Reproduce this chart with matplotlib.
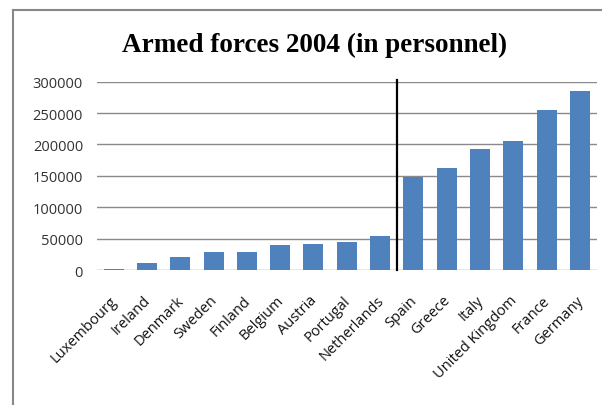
import matplotlib.pyplot as plt
from matplotlib.lines import Line2D

# armed forces personnel per country, 2004
countries = ["Luxembourg", "Ireland", "Denmark", "Sweden", "Finland", "Belgium",
             "Austria", "Portugal", "Netherlands", "Spain", "Greece", "Italy",
             "United Kingdom", "France", "Germany"]
personnel = [900, 10500, 20100, 28600, 28300, 39800, 41400, 44100, 54200,
             148000, 162300, 192600, 205400, 254800, 285200]
yticks = [0, 50000, 100000, 150000, 200000, 250000, 300000]

plt.rcParams['font.family'] = ['Open Sans', 'DejaVu Sans']

fig = plt.figure(figsize=(6.02, 4.06), dpi=100)
ax = fig.add_axes([0.161, 0.3325, 0.830, 0.4638])

x = range(len(countries))
ax.bar(x, personnel, width=0.6, color="#4F81BD", zorder=3)

# separator between the smaller and larger forces
ax.axvline(8.5, ymin=0, ymax=1.01, color="black", lw=1.6, clip_on=False, zorder=4)

ax.set_xlim(-0.5, len(countries) - 0.5)
ax.set_ylim(0, 300000)
ax.set_yticks(yticks)
ax.set_yticklabels([str(v) for v in yticks], fontsize=10.5, color="#333333")
ax.yaxis.grid(True, color="#8a8a8a", lw=1.0, zorder=0)
ax.tick_params(axis="y", length=0, pad=10)
ax.tick_params(axis="x", length=0, pad=0)

ax.set_xticks(list(x))
ax.set_xticklabels([])
for i, name in enumerate(countries):
    ax.annotate(name, xy=(i, 0), xycoords="data", xytext=(1, -20),
                textcoords="offset points", rotation=45, ha="right", va="center",
                rotation_mode="anchor", fontsize=10.5, color="#111111",
                annotation_clip=False)

for side in ["left", "right", "top", "bottom"]:
    ax.spines[side].set_visible(False)

fig.text(0.522, 1 - 52 / 406, "Armed forces 2004 (in personnel)", ha="center",
         va="baseline", fontsize=19.5, fontweight="bold", family="Liberation Serif")

# outer chart frame (top and left edges)
fig.add_artist(Line2D([12.5 / 602, 12.5 / 602], [0, 1 - 11 / 406],
                      color="#888888", lw=1.5, transform=fig.transFigure))
fig.add_artist(Line2D([12.5 / 602, 1], [1 - 11 / 406, 1 - 11 / 406],
                      color="#888888", lw=1.5, transform=fig.transFigure))

fig.savefig("out.png", dpi=100)
